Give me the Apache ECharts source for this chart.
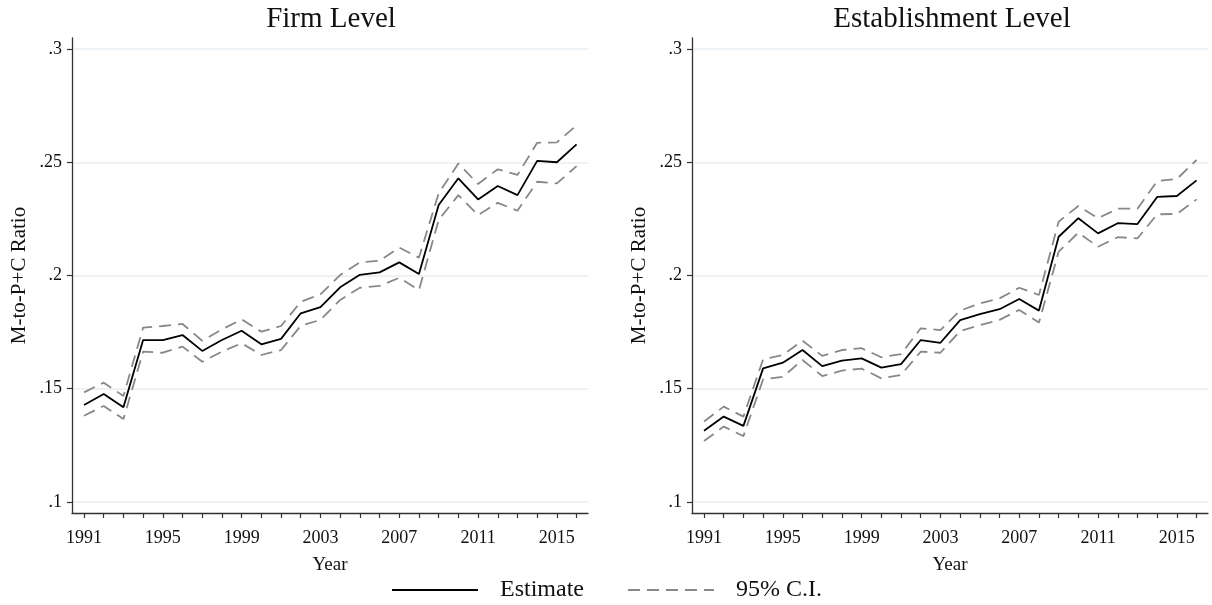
<!DOCTYPE html>
<html>
<head>
<meta charset="utf-8">
<script src="https://cdn.jsdelivr.net/npm/echarts@6/dist/echarts.min.js"></script>
<style>html,body{margin:0;padding:0;background:#fff}#c{width:1212px;height:605px}</style>
</head>
<body>
<div id="c"></div>
<script>
const years = [1991,1992,1993,1994,1995,1996,1997,1998,1999,2000,2001,2002,2003,2004,2005,2006,2007,2008,2009,2010,2011,2012,2013,2014,2015,2016];
const firmEstimate = [0.1428,0.1477,0.1418,0.1715,0.1715,0.1737,0.1667,0.1715,0.1756,0.1696,0.1720,0.1833,0.1860,0.1948,0.2003,0.2014,0.2058,0.2007,0.2311,0.2429,0.2336,0.2395,0.2355,0.2506,0.2500,0.2579];
const firmUpper = [0.1484,0.1527,0.1468,0.1770,0.1777,0.1786,0.1712,0.1762,0.1806,0.1752,0.1777,0.1884,0.1917,0.2002,0.2058,0.2065,0.2123,0.2079,0.2363,0.2495,0.2404,0.2469,0.2444,0.2586,0.2588,0.2663];
const firmLower = [0.1381,0.1424,0.1366,0.1664,0.1659,0.1686,0.1619,0.1664,0.1701,0.1649,0.1671,0.1778,0.1804,0.1892,0.1946,0.1954,0.1990,0.1936,0.2245,0.2355,0.2267,0.2321,0.2286,0.2414,0.2407,0.2483];
const estabEstimate = [0.1315,0.1377,0.1336,0.1590,0.1615,0.1671,0.1600,0.1624,0.1634,0.1593,0.1609,0.1715,0.1703,0.1803,0.1829,0.1851,0.1896,0.1845,0.2171,0.2253,0.2186,0.2231,0.2227,0.2347,0.2351,0.2420];
const estabUpper = [0.1355,0.1421,0.1377,0.1630,0.1649,0.1712,0.1645,0.1671,0.1679,0.1639,0.1653,0.1767,0.1759,0.1845,0.1877,0.1899,0.1946,0.1914,0.2238,0.2307,0.2253,0.2295,0.2295,0.2417,0.2426,0.2510];
const estabLower = [0.1269,0.1333,0.1291,0.1542,0.1553,0.1627,0.1556,0.1580,0.1589,0.1546,0.1561,0.1664,0.1659,0.1755,0.1781,0.1804,0.1848,0.1792,0.2105,0.2189,0.2127,0.2169,0.2164,0.2270,0.2272,0.2336];
const xLabelYears = [1991,1995,1999,2003,2007,2011,2015];
const yTicks = [0.1,0.15,0.2,0.25,0.3];
const yTickLabels = ['.1','.15','.2','.25','.3'];
const panelTitles = ['Firm Level','Establishment Level'];

const FONT = '"Liberation Serif", "Times New Roman", serif';
const pair = (ys) => years.map((y, i) => [y, ys[i]]);
const yFmt = v => { const k = yTicks.findIndex(t => Math.abs(t - v) < 1e-6); return k >= 0 ? yTickLabels[k] : ''; };

function xAxisFor(idx) {
  return {
    type: 'value', gridIndex: idx, min: 1990.39, max: 2016.58,
    name: 'Year', nameLocation: 'middle', nameGap: 43,
    nameTextStyle: {fontFamily: FONT, fontSize: 19, color: '#111'},
    axisLine: {onZero: false, lineStyle: {color: '#333', width: 1.3}},
    axisTick: {show: true, length: 5, inside: false, customValues: years, lineStyle: {color: '#333', width: 1.2}},
    axisLabel: {customValues: xLabelYears, fontFamily: FONT, fontSize: 18, color: '#111', margin: 16,
      formatter: v => String(Math.round(v))},
    splitLine: {show: false}
  };
}
function yAxisFor(idx) {
  return {
    type: 'value', gridIndex: idx, min: 0.09514, max: 0.30486,
    name: 'M-to-P+C Ratio', nameLocation: 'middle', nameGap: 42, nameRotate: 90,
    nameTextStyle: {fontFamily: FONT, fontSize: 21, color: '#111'},
    axisLine: {show: true, lineStyle: {color: '#333', width: 1.3}},
    axisTick: {show: true, length: 5, inside: false, customValues: yTicks, lineStyle: {color: '#333', width: 1.2}},
    axisLabel: {customValues: yTicks, fontFamily: FONT, fontSize: 18, color: '#111', margin: 10, formatter: yFmt},
    splitLine: {show: true, lineStyle: {color: '#e6eef3', width: 1.5}}
  };
}
function seriesFor(idx, est, up, lo) {
  const ci = {type: 'line', name: '95% C.I.', xAxisIndex: idx, yAxisIndex: idx, symbol: 'none', silent: true,
    lineStyle: {color: '#888888', width: 1.8, type: [12, 7]}, itemStyle: {color: '#888888'}};
  return [
    Object.assign({}, ci, {data: pair(up)}),
    Object.assign({}, ci, {data: pair(lo)}),
    {type: 'line', name: 'Estimate', xAxisIndex: idx, yAxisIndex: idx, symbol: 'none', silent: true, z: 3,
      lineStyle: {color: '#000', width: 1.8}, itemStyle: {color: '#000'}, data: pair(est)}
  ];
}

const chart = echarts.init(document.getElementById('c'), null, {renderer: 'canvas'});
chart.setOption({
  animation: false,
  backgroundColor: '#fff',
  title: [
    {text: panelTitles[0], left: 326, top: 0, textAlign: 'center', textStyle: {fontFamily: FONT, fontSize: 29, fontWeight: 'normal', color: '#111'}},
    {text: panelTitles[1], left: 947, top: 0, textAlign: 'center', textStyle: {fontFamily: FONT, fontSize: 29, fontWeight: 'normal', color: '#111'}}
  ],
  grid: [
    {left: 72, top: 38, width: 516, height: 475, outerBoundsMode: 'none', containLabel: false},
    {left: 692, top: 38, width: 516, height: 475, outerBoundsMode: 'none', containLabel: false}
  ],
  xAxis: [xAxisFor(0), xAxisFor(1)],
  yAxis: [yAxisFor(0), yAxisFor(1)],
  legend: {
    data: ['Estimate', '95% C.I.'], left: 386, top: 573, itemWidth: 86, itemHeight: 14, itemGap: 43,
    selectedMode: false, itemStyle: {opacity: 0},
    textStyle: {fontFamily: FONT, fontSize: 24, color: '#111', padding: [0, 0, 0, 17]}
  },
  series: [].concat(
    seriesFor(0, firmEstimate, firmUpper, firmLower),
    seriesFor(1, estabEstimate, estabUpper, estabLower)
  )
});
</script>
</body>
</html>
